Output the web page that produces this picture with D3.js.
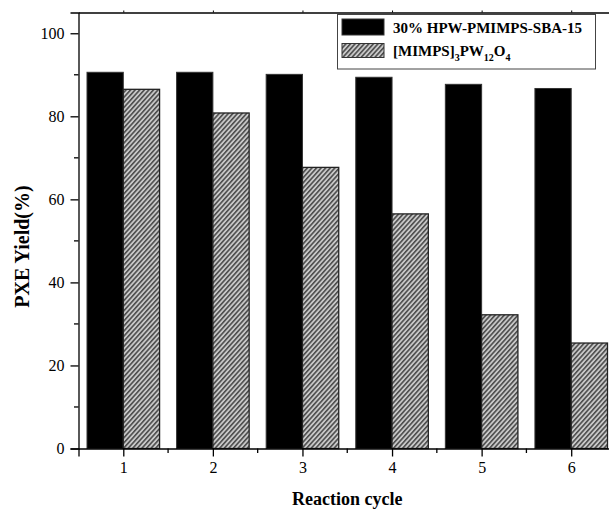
<!DOCTYPE html>
<html>
<head>
<meta charset="utf-8">
<script src="https://cdn.jsdelivr.net/npm/d3@7"></script>
<style>
  html, body { margin: 0; padding: 0; background: #fff; }
  svg { display: block; }
  svg text { font-family: "Liberation Serif", "Times New Roman", serif !important; fill: #000; }
</style>
</head>
<body>
<svg id="chart" width="609" height="509"></svg>
<script>
const cycles = [1, 2, 3, 4, 5, 6];
const hpwSba = [90.6, 90.6, 90.1, 89.4, 87.7, 86.7];
const mimpsPw = [86.5, 80.8, 67.7, 56.5, 32.2, 25.4];
const yTicks = [0, 20, 40, 60, 80, 100];
const yMinor = [10, 30, 50, 70, 90];
const xMinor = [1.5, 2.5, 3.5, 4.5, 5.5];

const FONT = "'Liberation Serif', 'Times New Roman', serif";
const svg = d3.select("#chart").attr("font-family", FONT);
const margin = { left: 78.5, top: 12.5, right: 616, bottom: 448.5 };

const x = d3.scaleLinear().domain([0.5, 6.5]).range([margin.left, margin.right]);
const y = d3.scaleLinear().domain([0, 105]).range([margin.bottom, margin.top]);
const barW = x(1.405) - x(1);

// hatch pattern
const defs = svg.append("defs");
const pat = defs.append("pattern")
  .attr("id", "hatch")
  .attr("patternUnits", "userSpaceOnUse")
  .attr("width", 3.4).attr("height", 10)
  .attr("patternTransform", "rotate(42)");
pat.append("rect").attr("width", 3.4).attr("height", 10).attr("fill", "#c8c8c8");
pat.append("line").attr("x1", 0.8).attr("x2", 0.8).attr("y1", 0).attr("y2", 10)
  .attr("stroke", "#2a2a2a").attr("stroke-width", 1.25);

// bars
const g = svg.append("g");
g.selectAll(".b1").data(cycles).enter().append("rect")
  .attr("x", (d) => x(d) - barW)
  .attr("y", (d, i) => y(hpwSba[i]))
  .attr("width", barW)
  .attr("height", (d, i) => y(0) - y(hpwSba[i]))
  .attr("fill", "#000").attr("stroke", "#333").attr("stroke-width", 1);
g.selectAll(".b2").data(cycles).enter().append("rect")
  .attr("x", (d) => x(d))
  .attr("y", (d, i) => y(mimpsPw[i]))
  .attr("width", barW)
  .attr("height", (d, i) => y(0) - y(mimpsPw[i]))
  .attr("fill", "url(#hatch)").attr("stroke", "#222").attr("stroke-width", 1.3);

// axes
const xAxis = d3.axisBottom(x).tickValues(cycles).tickFormat(d3.format("d")).tickSize(8).tickPadding(5);
const gx = svg.append("g").attr("transform", `translate(0,${margin.bottom})`).call(xAxis)
  .attr("font-family", FONT).attr("font-size", 16);
gx.selectAll(".tick line").attr("stroke", "#000").attr("stroke-width", 1.3);
gx.select(".domain").attr("stroke", "#000").attr("stroke-width", 1.3);
gx.selectAll("text").style("font-size", "16px").style("font-family", FONT);
gx.selectAll(".minor").data(xMinor).enter().append("line")
  .attr("x1", (d) => x(d)).attr("x2", (d) => x(d)).attr("y1", 0).attr("y2", 4.5)
  .attr("stroke", "#000").attr("stroke-width", 1.3);

const yAxis = d3.axisLeft(y).tickValues(yTicks).tickFormat(d3.format("d")).tickSize(8).tickPadding(6);
const gy = svg.append("g").attr("transform", `translate(${margin.left},0)`).call(yAxis)
  .attr("font-family", FONT).attr("font-size", 16);
gy.selectAll(".tick line").attr("stroke", "#000").attr("stroke-width", 1.3);
gy.select(".domain").attr("stroke", "#000").attr("stroke-width", 1.3);
gy.selectAll("text").style("font-size", "16px").style("font-family", FONT);
gy.selectAll(".minor").data(yMinor).enter().append("line")
  .attr("x1", -4.5).attr("x2", 0).attr("y1", (d) => y(d)).attr("y2", (d) => y(d))
  .attr("stroke", "#000").attr("stroke-width", 1.3);

// top frame
const xTop = d3.axisTop(x).tickValues(cycles).tickFormat("").tickSize(2).tickSizeOuter(0);
const gt = svg.append("g").attr("transform", `translate(0,${margin.top})`).call(xTop);
gt.selectAll(".tick line").attr("stroke", "#000");
gt.select(".domain").attr("stroke", "#000").attr("stroke-width", 1.3);

// axis titles
svg.append("text")
  .attr("x", (margin.left + margin.right) / 2).attr("y", 505)
  .attr("text-anchor", "middle")
  .style("font-family", FONT)
  .style("font-size", "18px").style("font-weight", "bold")
  .text("Reaction cycle");
svg.append("text")
  .attr("transform", `translate(29,${(margin.top + margin.bottom) / 2 + 16}) rotate(-90)`)
  .attr("text-anchor", "middle")
  .style("font-family", FONT)
  .style("font-size", "20px").style("font-weight", "bold")
  .text("PXE Yield(%)");

// legend
const lg = svg.append("g");
lg.append("rect").attr("x", 337.5).attr("y", 14.5).attr("width", 258).attr("height", 54.5)
  .attr("fill", "#fff").attr("stroke", "#444").attr("stroke-width", 1);
lg.append("rect").attr("x", 342).attr("y", 19).attr("width", 42).attr("height", 16)
  .attr("fill", "#000").attr("stroke", "#333");
lg.append("rect").attr("x", 342).attr("y", 43.5).attr("width", 42).attr("height", 14)
  .attr("fill", "url(#hatch)").attr("stroke", "#333");
lg.append("text").attr("x", 393).attr("y", 33)
  .style("font-family", FONT)
  .style("font-size", "15px").style("font-weight", "bold")
  .text("30% HPW-PMIMPS-SBA-15");
const t2 = lg.append("text").attr("x", 393).attr("y", 56)
  .style("font-family", FONT)
  .style("font-size", "15px").style("font-weight", "bold");
t2.append("tspan").text("[MIMPS]");
t2.append("tspan").attr("dy", 5).style("font-size", "10px").text("3");
t2.append("tspan").attr("dy", -5).text("PW");
t2.append("tspan").attr("dy", 5).style("font-size", "10px").text("12");
t2.append("tspan").attr("dy", -5).text("O");
t2.append("tspan").attr("dy", 5).style("font-size", "10px").text("4");
</script>
</body>
</html>
